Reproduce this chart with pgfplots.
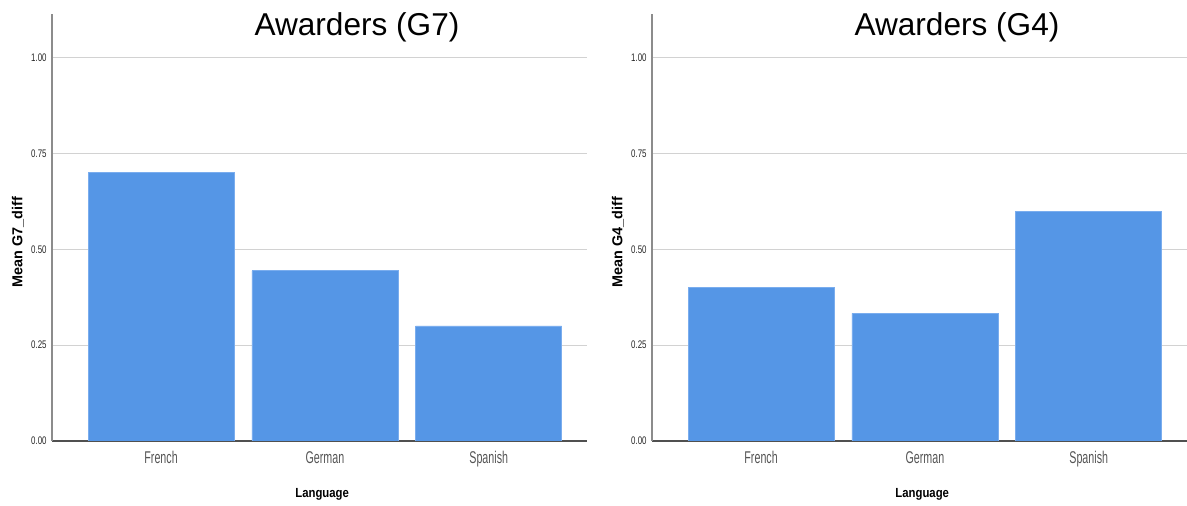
\documentclass[border=0pt]{standalone}
\usepackage{pgfplots}
\pgfplotsset{compat=1.18}
\usepackage{fontspec}
\setmainfont{Liberation Sans}
\newfontfamily\narrowfont[FakeStretch=0.63]{Liberation Sans}
\newfontfamily\tickfont[FakeStretch=0.72]{Liberation Sans}
\newfontfamily\labfont[FakeStretch=0.86]{Liberation Sans}
\definecolor{barblue}{HTML}{5596E6}
\definecolor{baredge}{HTML}{7AADEE}
\definecolor{gridgray}{HTML}{D2D2D2}
\definecolor{ylinegray}{HTML}{8C8C8C}
\definecolor{xlinegray}{HTML}{505050}
\definecolor{catgray}{HTML}{555555}
\pgfplotsset{
  spssbar/.style={
    scale only axis,
    width=267.5pt, height=213.5pt,
    anchor=south west,
    xmin=-0.666, xmax=2.60,
    ymin=0, ymax=1.114,
    ybar, bar width=73pt,
    xtick={0,1,2},
    xticklabels={French,German,Spanish},
    ytick={0,0.25,0.5,0.75,1},
    yticklabels={0.00,0.25,0.50,0.75,1.00},
    major tick length=0pt,
    ymajorgrids, grid style={draw=gridgray, line width=0.6pt},
    axis x line*=bottom, axis y line*=left,
    x axis line style={draw=xlinegray, line width=0.6pt, -},
    y axis line style={draw=ylinegray, line width=0.6pt, -},
    yticklabel style={font=\tickfont\fontsize{5.5}{6}\selectfont, text=black!85, inner sep=0pt, xshift=-2.5pt},
    xticklabel style={font=\narrowfont\fontsize{8.5}{9}\selectfont, text=catgray, inner sep=0pt, yshift=-5pt, anchor=north},
    xlabel={Language},
    xlabel style={font=\labfont\bfseries\fontsize{6.6}{7}\selectfont, at={(axis description cs:0.505,0)}, anchor=north, inner sep=0pt, yshift=-23.5pt},
    ylabel style={font=\bfseries\fontsize{7.2}{8}\selectfont, at={(axis description cs:-0.0636,0.466)}, anchor=center, inner sep=0pt},
    title style={font=\fontsize{15.8}{17}\selectfont, at={(axis description cs:0.57,1)}, anchor=base, inner sep=0pt, yshift=-17pt},
  }
}
\begin{document}
\begin{tikzpicture}
\useasboundingbox (0,0) rectangle (593.5pt,253pt);
\begin{axis}[spssbar, at={(26pt,32.5pt)}, title={Awarders (G7)}, ylabel={Mean G7\_diff}]
\addplot[fill=barblue, draw=baredge, line width=0.4pt] coordinates {(0,0.700) (1,0.444) (2,0.300)};
\end{axis}
\begin{axis}[spssbar, at={(326pt,32.5pt)}, title={Awarders (G4)}, ylabel={Mean G4\_diff}]
\addplot[fill=barblue, draw=baredge, line width=0.4pt] coordinates {(0,0.400) (1,0.333) (2,0.600)};
\end{axis}
\end{tikzpicture}
\end{document}
